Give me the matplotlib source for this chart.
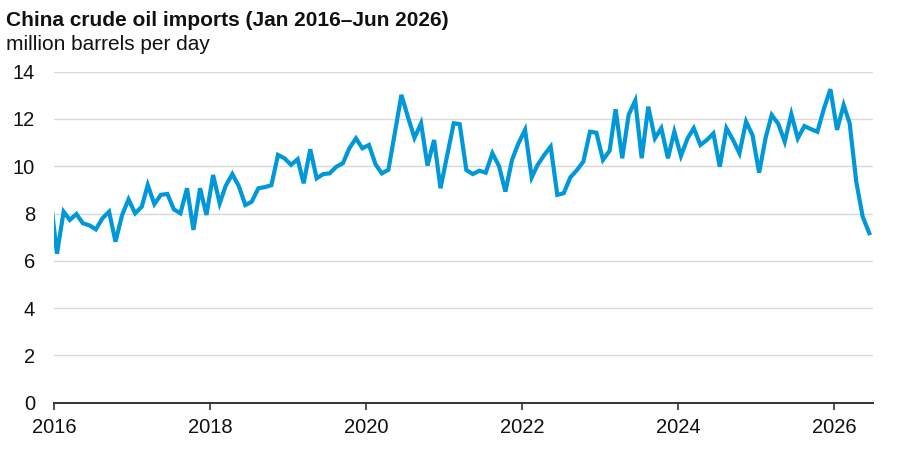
import matplotlib
matplotlib.use("Agg")
import matplotlib.pyplot as plt
import matplotlib.dates as mdates
import pandas as pd

plt.rcParams['font.family'] = ['Liberation Sans', 'DejaVu Sans']

title = "China crude oil imports (Jan 2016\u2013Jun 2026)"
subtitle = "million barrels per day"

# monthly values, Dec 2015 (clipped at axis start) through Jun 2026
months = pd.date_range("2015-12-01", "2026-06-01", freq="MS")
values = [
    8.7,
    # 2016
    6.30, 8.08, 7.73, 7.98, 7.59, 7.50, 7.33, 7.80, 8.08, 6.81, 7.94, 8.60,
    # 2017
    8.01, 8.29, 9.21, 8.40, 8.79, 8.83, 8.18, 8.01, 9.07, 7.31, 9.07, 7.94,
    # 2018
    9.63, 8.43, 9.17, 9.67, 9.17, 8.36, 8.50, 9.07, 9.12, 9.20, 10.48, 10.34,
    # 2019
    10.06, 10.30, 9.28, 10.72, 9.49, 9.67, 9.70, 9.98, 10.13, 10.76, 11.18, 10.76,
    # 2020
    10.90, 10.08, 9.70, 9.85, 11.40, 13.02, 12.10, 11.20, 11.82, 10.03, 11.11, 9.07,
    # 2021
    10.45, 11.82, 11.78, 9.84, 9.67, 9.81, 9.73, 10.55, 10.01, 8.93, 10.27, 10.97,
    # 2022
    11.54, 9.53, 10.06, 10.48, 10.83, 8.79, 8.86, 9.53, 9.84, 10.20, 11.46, 11.42,
    # 2023
    10.27, 10.66, 12.41, 10.34, 12.17, 12.78, 10.34, 12.52, 11.18, 11.61, 10.34, 11.46,
    # 2024
    10.44, 11.18, 11.61, 10.90, 11.11, 11.39, 9.98, 11.61, 11.11, 10.55, 11.89, 11.32,
    # 2025
    9.73, 11.22, 12.17, 11.79, 11.04, 12.21, 11.18, 11.70, 11.57, 11.46, 12.45, 13.26,
    # 2026
    11.54, 12.59, 11.82, 9.35, 7.87, 7.17,
]
y_ticks = [0, 2, 4, 6, 8, 10, 12, 14]

x = months + pd.Timedelta(days=14)

fig = plt.figure(figsize=(9, 4.53), dpi=100)
ax = fig.add_axes([54/900, 1-402.7/453, (872.7-54)/900, (402.7-71.7)/453])

ax.plot(x, values, color="#0098d8", lw=3.0, solid_joinstyle="miter", zorder=3)

ax.set_xlim(pd.Timestamp("2016-01-01"), pd.Timestamp("2026-07-01"))
ax.set_ylim(0, 14)
ax.set_yticks(y_ticks)
ax.yaxis.grid(True, color="#d9d9d9", lw=1.0)
ax.set_axisbelow(True)
ax.xaxis.set_major_locator(mdates.YearLocator(2))
ax.xaxis.set_major_formatter(mdates.DateFormatter("%Y"))

for s in ["top", "right", "left"]:
    ax.spines[s].set_visible(False)
ax.spines["bottom"].set_color("#333333")
ax.spines["bottom"].set_linewidth(1.4)
ax.spines["bottom"].set_zorder(4)

ax.tick_params(axis="y", length=0, pad=13.5, labelsize=14.5, labelcolor="#111111")
ax.tick_params(axis="x", length=5, width=1.2, color="#333333", pad=6,
               labelsize=14.5, labelcolor="#111111")

fig.text(6/900, 1-26/453, title, fontsize=15, fontweight="bold",
         va="baseline", ha="left", color="#111111")
fig.text(6/900, 1-50/453, subtitle, fontsize=15,
         va="baseline", ha="left", color="#111111")

fig.savefig("out.png", dpi=100)
